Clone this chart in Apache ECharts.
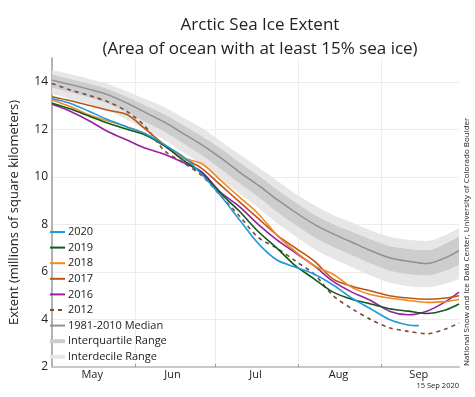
<!DOCTYPE html>
<html>
<head>
<meta charset="utf-8">
<script src="https://cdn.jsdelivr.net/npm/echarts@6/dist/echarts.min.js"></script>
<style>
  html, body { margin: 0; padding: 0; background: #fff; }
  #chart { width: 475px; height: 397px; }
</style>
</head>
<body>
<div id="chart"></div>
<script>
// days counted from 1 May (0) to 30 Sep (152)
const days = [0, 7, 14, 21, 28, 35, 42, 49, 56, 63, 70, 77, 84, 91, 98, 105, 112, 119, 126, 133, 140, 147, 152]
const days2020 = [0, 7, 14, 21, 28, 35, 42, 49, 56, 63, 70, 77, 84, 91, 98, 105, 112, 119, 126, 133, 137]

const monthNames = ['May', 'Jun', 'Jul', 'Aug', 'Sep']
const monthStarts = [31, 61, 92, 123]
const monthMiddles = [15, 45, 76, 107, 137]
const yTicks = [2, 4, 6, 8, 10, 12, 14]

// 1981-2010 statistics
const median = [14.07, 13.88, 13.68, 13.45, 13.1, 12.7, 12.3, 11.82, 11.35, 10.8, 10.2, 9.65, 9.05, 8.5, 8.0, 7.6, 7.25, 6.9, 6.6, 6.45, 6.35, 6.6, 6.9]
const idrLow = [13.5, 13.28, 13.05, 12.78, 12.4, 11.98, 11.55, 11.02, 10.5, 9.9, 9.3, 8.7, 8.05, 7.5, 6.95, 6.55, 6.2, 5.85, 5.55, 5.4, 5.35, 5.5, 5.7]
const iqrLow = [13.75, 13.55, 13.34, 13.08, 12.72, 12.3, 11.9, 11.4, 10.9, 10.33, 9.72, 9.15, 8.52, 7.97, 7.45, 7.05, 6.7, 6.35, 6.05, 5.9, 5.85, 6.05, 6.3]
const iqrHigh = [14.32, 14.12, 13.93, 13.7, 13.38, 13.0, 12.64, 12.18, 11.72, 11.2, 10.62, 10.07, 9.48, 8.93, 8.42, 8.02, 7.7, 7.38, 7.1, 6.98, 6.92, 7.2, 7.5]
const idrHigh = [14.5, 14.32, 14.12, 13.9, 13.6, 13.27, 12.93, 12.5, 12.05, 11.5, 10.95, 10.4, 9.85, 9.28, 8.8, 8.4, 8.08, 7.75, 7.48, 7.35, 7.3, 7.55, 7.85]

// yearly extents (millions of km2)
const ext2020 = [13.3, 13.09, 12.75, 12.4, 12.1, 11.8, 11.35, 10.85, 10.1, 9.2, 8.2, 7.2, 6.5, 6.2, 5.9, 5.45, 4.9, 4.45, 4.0, 3.77, 3.74]
const ext2019 = [13.1, 12.85, 12.55, 12.25, 12.0, 11.75, 11.3, 10.7, 10.15, 9.3, 8.55, 7.7, 7.0, 6.25, 5.7, 5.15, 4.85, 4.65, 4.45, 4.35, 4.25, 4.4, 4.65]
const ext2018 = [13.23, 12.95, 12.6, 12.35, 12.1, 11.8, 11.3, 10.8, 10.55, 9.85, 9.15, 8.45, 7.55, 6.85, 6.25, 5.9, 5.35, 5.05, 4.9, 4.8, 4.72, 4.75, 4.85]
const ext2017 = [13.37, 13.2, 13.0, 12.8, 12.62, 12.0, 11.35, 10.8, 10.35, 9.65, 8.95, 8.25, 7.55, 7.0, 6.45, 5.7, 5.4, 5.2, 5.0, 4.9, 4.85, 4.9, 5.0]
const ext2016 = [13.05, 12.75, 12.35, 11.9, 11.55, 11.2, 10.95, 10.6, 10.2, 9.35, 8.75, 8.0, 7.35, 6.8, 6.25, 5.6, 5.15, 4.8, 4.35, 4.2, 4.35, 4.75, 5.15]
const ext2012 = [13.93, 13.65, 13.42, 13.15, 12.75, 12.1, 11.1, 10.6, 10.05, 9.2, 8.35, 7.45, 7.0, 6.45, 5.9, 5.0, 4.45, 4.0, 3.65, 3.5, 3.4, 3.6, 3.85]

// one category per day, 1 May .. 30 Sep
const dayCategories = Array.from({ length: 153 }, (_, i) => String(i))

const pairs = (xs, ys) => xs.map((x, i) => [x, ys[i]])
const diff = (a, b) => a.map((v, i) => +(v - b[i]).toFixed(3))

const chart = echarts.init(document.getElementById('chart'))

const bandSeries = (name, data, color) => ({
  name: name,
  type: 'line',
  stack: 'band',
  symbol: 'none',
  silent: true,
  smooth: 0.3,
  lineStyle: { width: 0 },
  itemStyle: { color: color },
  areaStyle: { color: color, opacity: 1 },
  data: pairs(days, data),
  z: 1
})

const yearSeries = (name, xs, ys, color, dashed) => ({
  name: name,
  type: 'line',
  symbol: 'none',
  smooth: 0.3,
  lineStyle: { width: 1.6, color: color, type: dashed ? [4, 4] : 'solid' },
  itemStyle: { color: color, opacity: 0 },
  data: pairs(xs, ys),
  z: 3
})

const option = {
  backgroundColor: '#fff',
  animation: false,
  textStyle: { fontFamily: 'Open Sans' },
  title: {
    text: 'Arctic Sea Ice Extent\n(Area of ocean with at least 15% sea ice)',
    left: 255,
    top: 8,
    textAlign: 'center',
    textStyle: { fontSize: 17, fontWeight: 'normal', color: '#222', lineHeight: 24, fontFamily: 'Open Sans' }
  },
  grid: { left: 46, right: 16, top: 58, bottom: 30, containLabel: false },
  legend: {
    orient: 'vertical',
    left: 49,
    top: 226,
    padding: 0,
    itemWidth: 15,
    itemHeight: 4,
    itemGap: 3.6,
    textStyle: { fontSize: 11, color: '#222', lineHeight: 12, padding: [0, 0, 0, -2] },
    data: [
      '2020', '2019', '2018', '2017', '2016', '2012', '1981-2010 Median',
      { name: 'Interquartile Range', icon: 'rect', itemStyle: { color: '#cdcdcd', opacity: 1 } },
      { name: 'Interdecile Range', icon: 'rect', itemStyle: { color: '#e6e6e6', opacity: 1 } }
    ]
  },
  xAxis: {
    type: 'category',
    data: dayCategories,
    boundaryGap: false,
    axisLine: { show: true, lineStyle: { color: '#c8c8c8', width: 2 } },
    axisTick: {
      show: true,
      inside: true,
      length: 3,
      interval: i => monthStarts.includes(i),
      lineStyle: { color: '#999' }
    },
    axisLabel: {
      interval: i => monthMiddles.includes(i),
      margin: 2,
      fontSize: 11,
      color: '#222',
      formatter: (v, i) => monthNames[monthMiddles.indexOf(i)]
    },
    splitLine: {
      show: true,
      interval: i => monthStarts.includes(i),
      lineStyle: { color: '#ececec', width: 1 }
    }
  },
  yAxis: {
    type: 'value',
    min: 2,
    max: 15,
    name: 'Extent (millions of square kilometers)',
    nameLocation: 'middle',
    nameGap: 31,
    nameTextStyle: { fontSize: 13, color: '#222' },
    axisLine: { show: true, lineStyle: { color: '#999', width: 1.5 } },
    axisTick: { show: false, customValues: yTicks },
    axisLabel: { customValues: yTicks, margin: 4, fontSize: 12, color: '#222' },
    splitLine: { show: true, lineStyle: { color: '#ececec', width: 1 } }
  },
  graphic: [
    {
      type: 'text',
      x: 467,
      y: 366,
      rotation: Math.PI / 2,
      style: {
        text: 'National Snow and Ice Data Center, University of Colorado Boulder',
        fontSize: 8,
        fontFamily: 'Open Sans',
        fill: '#222',
        align: 'left',
        verticalAlign: 'middle'
      }
    },
    {
      type: 'text',
      x: 459,
      y: 386,
      style: {
        text: '15 Sep 2020',
        fontSize: 7.5,
        fontFamily: 'Open Sans',
        fill: '#222',
        align: 'right',
        verticalAlign: 'middle'
      }
    }
  ],
  series: [
    {
      name: 'band-base',
      type: 'line',
      stack: 'band',
      symbol: 'none',
      silent: true,
      smooth: 0.3,
      lineStyle: { width: 0 },
      data: pairs(days, idrLow),
      z: 1
    },
    bandSeries('Interdecile Range', diff(iqrLow, idrLow), '#e6e6e6'),
    bandSeries('Interquartile Range', diff(iqrHigh, iqrLow), '#cdcdcd'),
    bandSeries('Interdecile Range', diff(idrHigh, iqrHigh), '#e6e6e6'),
    {
      name: '1981-2010 Median',
      type: 'line',
      symbol: 'none',
      smooth: 0.3,
      lineStyle: { width: 1.5, color: '#8f8f8f' },
      itemStyle: { color: '#8f8f8f', opacity: 0 },
      data: pairs(days, median),
      z: 2
    },
    yearSeries('2012', days, ext2012, '#7d4a38', true),
    yearSeries('2016', days, ext2016, '#9b1fa0', false),
    yearSeries('2017', days, ext2017, '#b9561c', false),
    yearSeries('2018', days, ext2018, '#f4891f', false),
    yearSeries('2019', days, ext2019, '#0f5a1a', false),
    yearSeries('2020', days2020, ext2020, '#1f9bdb', false)
  ]
}

chart.setOption(option)
</script>
</body>
</html>
